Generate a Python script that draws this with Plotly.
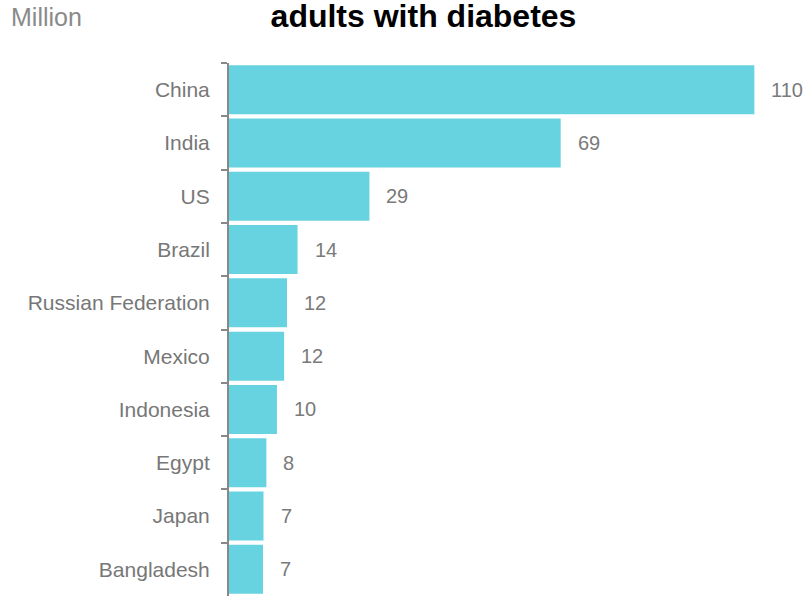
import plotly.graph_objects as go

countries = ["China", "India", "US", "Brazil", "Russian Federation", "Mexico",
             "Indonesia", "Egypt", "Japan", "Bangladesh"]
values = [109.6, 69.2, 29.3, 14.3, 12.1, 11.5, 10.0, 7.8, 7.2, 7.1]
labels = ["110", "69", "29", "14", "12", "12", "10", "8", "7", "7"]

BAR = "#67d3e0"
GRAY = "#777777"
FONT = "Liberation Sans, Arial, sans-serif"

W, H = 809, 596
ML, MT = 229, 63
PW, PH = W - ML, H - MT

fig = go.Figure()
fig.add_trace(go.Bar(
    x=values, y=countries, orientation="h",
    marker=dict(color=BAR, line=dict(width=0)),
    hoverinfo="skip",
))

annotations = []
for c, v, t in zip(countries, values, labels):
    annotations.append(dict(
        x=v, y=c, xref="x", yref="y", text=t, showarrow=False,
        xanchor="left", xshift=15, font=dict(size=20, color="#7a7a7a", family=FONT),
    ))
annotations.append(dict(
    x=(9 - ML) / PW, y=1 + (MT - 17) / PH, xref="paper", yref="paper",
    text="Million", showarrow=False, xanchor="left", yanchor="middle",
    font=dict(size=25, color="#8a8a8a", family=FONT),
))

fig.update_layout(
    width=W, height=H,
    margin=dict(l=ML, r=0, t=MT, b=0),
    paper_bgcolor="white", plot_bgcolor="white",
    showlegend=False,
    bargap=0.08,
    font=dict(family=FONT, color=GRAY),
    title=dict(text="<b>adults with diabetes</b>", x=423.5 / W, xanchor="center",
               y=1 - 16 / H, yanchor="middle",
               font=dict(size=32, color="black", family=FONT)),
    annotations=annotations,
    xaxis=dict(range=[0, 121], visible=False, fixedrange=True),
    yaxis=dict(
        autorange="reversed", type="category",
        showline=True, linecolor="#888888", linewidth=2,
        ticks="outside", tickson="boundaries", ticklen=6, tickcolor="#888888", tickwidth=2,
        tickfont=dict(size=21, color=GRAY, family=FONT),
        ticklabelstandoff=13,
        showgrid=False, zeroline=False, fixedrange=True,
    ),
)

fig.write_html("out.html", config={"displayModeBar": False},
               post_script="document.body.style.margin='0';")
